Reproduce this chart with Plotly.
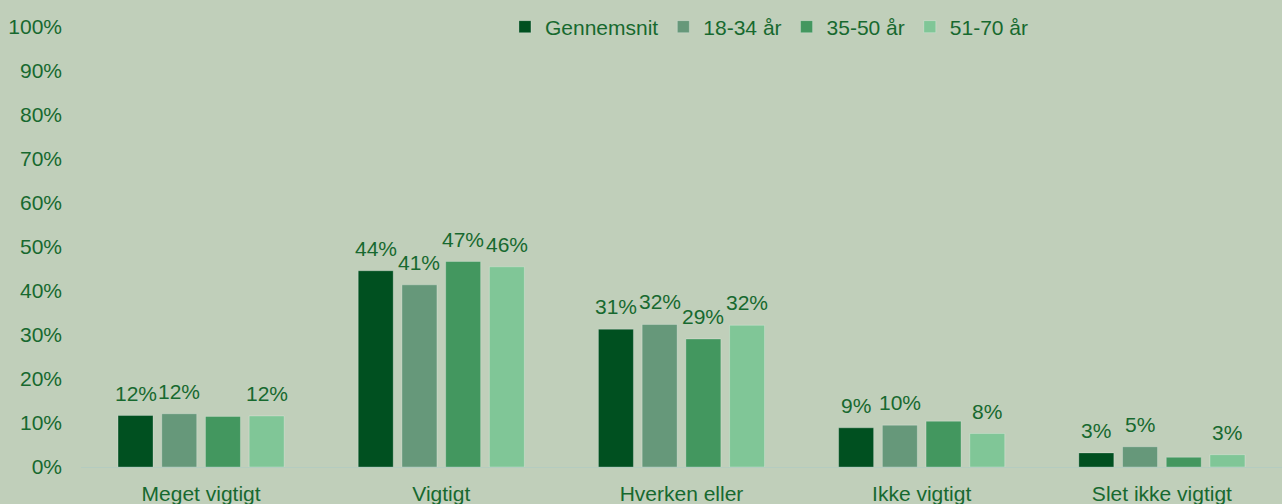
import plotly.graph_objects as go

categories = ["Meget vigtigt", "Vigtigt", "Hverken eller", "Ikke vigtigt", "Slet ikke vigtigt"]
series_names = ["Gennemsnit", "18-34 år", "35-50 år", "51-70 år"]
gennemsnit = [11.7, 44.6, 31.3, 8.9, 3.2]
age_18_34 = [12.1, 41.4, 32.4, 9.5, 4.6]
age_35_50 = [11.5, 46.7, 29.1, 10.4, 2.2]
age_51_70 = [11.6, 45.5, 32.2, 7.6, 2.8]
labels_gennemsnit = ["12%", "44%", "31%", "9%", "3%"]
labels_18_34 = ["12%", "41%", "32%", "10%", "5%"]
labels_35_50 = ["", "47%", "29%", "", ""]
labels_51_70 = ["12%", "46%", "32%", "8%", "3%"]
y_ticks = [0, 10, 20, 30, 40, 50, 60, 70, 80, 90, 100]
y_tick_labels = [f"{t}%" for t in y_ticks]

colors = ["#005020", "#66987A", "#43975F", "#80C697"]
text_color = "#17692F"
bg = "#C0CFBA"
font_family = "Liberation Sans, Arial, sans-serif"
FS = 21

bargap = 0.272
bargroupgap = 0.2

fig = go.Figure()
all_vals = [gennemsnit, age_18_34, age_35_50, age_51_70]
all_labs = [labels_gennemsnit, labels_18_34, labels_35_50, labels_51_70]
n = len(series_names)
slot = (1 - bargap) / n
for j, (name, vals, labs, col) in enumerate(zip(series_names, all_vals, all_labs, colors)):
    fig.add_trace(go.Bar(
        name=name, x=categories, y=vals,
        marker=dict(color=col, line=dict(color="rgba(255,255,255,0.25)", width=1)),
        hoverinfo="skip",
    ))
    for i, (v, lab) in enumerate(zip(vals, labs)):
        if lab:
            fig.add_annotation(
                x=i + (j - (n - 1) / 2) * slot, y=v, xref="x", yref="y",
                text=lab, showarrow=False, yanchor="bottom", yshift=9,
                font=dict(size=FS, color=text_color, family=font_family),
            )

fig.update_layout(
    width=1282, height=504,
    paper_bgcolor=bg, plot_bgcolor=bg,
    margin=dict(l=81, r=0, t=27, b=37),
    barmode="group", bargap=bargap, bargroupgap=bargroupgap,
    font=dict(family=font_family, size=FS, color=text_color),
    showlegend=True,
    legend=dict(orientation="h", x=0.353, xanchor="left", y=1.0, yanchor="middle",
                font=dict(size=FS, color=text_color), bgcolor="rgba(0,0,0,0)",
                itemwidth=30, traceorder="normal"),
    xaxis=dict(showgrid=False, showline=True, linecolor="#B4CCC0", linewidth=1,
               ticks="", tickfont=dict(size=FS, color=text_color), ticklabelstandoff=8,
               automargin=False),
    yaxis=dict(range=[0, 100], tickvals=y_ticks, ticktext=y_tick_labels,
               showgrid=False, zeroline=False, showline=False, ticks="",
               tickfont=dict(size=FS, color=text_color), ticklabelstandoff=18,
               automargin=False),
)

fig.write_html("out.html", config={"displayModeBar": False},
               post_script="document.body.style.margin='0';document.body.style.overflow='hidden';")
